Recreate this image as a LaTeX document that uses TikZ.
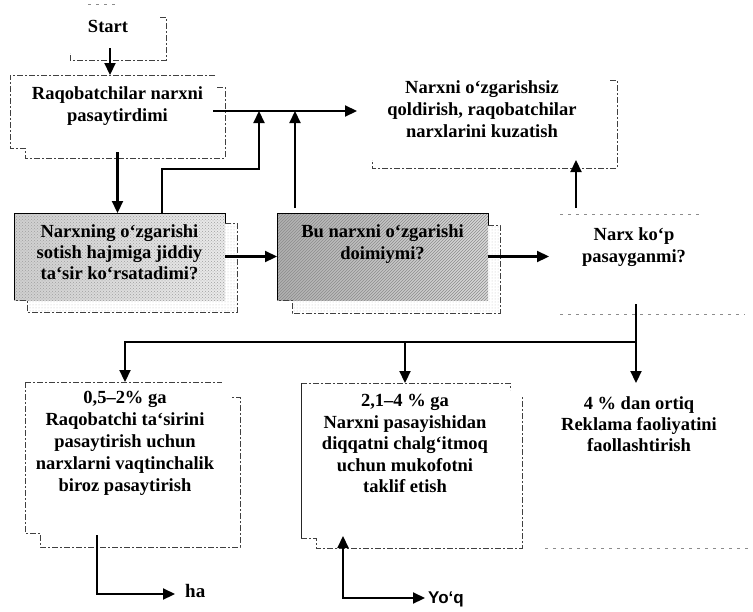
\documentclass[tikz,border=0pt]{standalone}
\usepackage{fontspec}
\setmainfont{Liberation Serif}
\newfontfamily\yoqfont{Liberation Sans}
\usetikzlibrary{arrows.meta,patterns}

% box body: width, height, space above first line, text
\newcommand\boxbody[4]{\parbox[c][#2][t]{#1}{\centering\vspace*{#3}#4\par}}

\tikzset{
  txt/.style={font=\bfseries\fontsize{18.5}{22}\selectfont, inner sep=0pt, outer sep=0pt, anchor=north west},
  conn/.style={line width=2.2pt, -{Triangle[length=12pt,width=11pt]}},
  conn2/.style={line width=2.2pt, {Triangle[length=12pt,width=11pt]}-{Triangle[length=12pt,width=11pt]}},
  edge dash/.style={line width=0.7pt, black!75, dash pattern=on 6pt off 2pt on 2pt off 2pt},
  faint dash/.style={line width=0.6pt, black!45, dash pattern=on 3pt off 5pt},
  solid edge/.style={line width=1pt, black},
}

\begin{document}
\begin{tikzpicture}[x=1pt,y=-1pt]
\useasboundingbox (0,0) rectangle (753,611);

% textured question boxes
\shade[left color=gray!38, right color=gray!16] (14,213) rectangle (225,300);
\fill[pattern=crosshatch dots, pattern color=gray!75] (14,213) rectangle (225,300);
\fill[pattern=dots, pattern color=gray!50] (225,223) -- (237,223) -- (237,312) -- (27,312) -- (27,300) -- (225,300) -- cycle;
\shade[left color=gray!62, right color=gray!30] (277,213) rectangle (488,300);
\fill[pattern=north east lines, pattern color=gray!90] (277,213) rectangle (488,300);
\fill[pattern=dots, pattern color=gray!50] (488,225) -- (500,225) -- (500,313) -- (292,313) -- (292,300) -- (488,300) -- cycle;

% nodes
\node[font=\bfseries\fontsize{18.5}{22}\selectfont, inner sep=2pt] (start) at (108,26) {Start};
\node[txt] (b1) at (10,75) {\boxbody{215pt}{83pt}{11.5pt}{Raqobatchilar narxni\\pasaytirdimi}};
\node[txt] (b2) at (14,213) {\fontsize{18.5}{21}\selectfont\boxbody{211pt}{87pt}{11.5pt}{Narxning o‘zgarishi\\sotish hajmiga jiddiy\\ta‘sir ko‘rsatadimi?}};
\node[txt] (b3) at (277,213) {\boxbody{211pt}{87pt}{11.5pt}{Bu narxni o‘zgarishi\\doimiymi?}};
\node[txt] (b4) at (549,214) {\boxbody{170pt}{98pt}{13.5pt}{Narx ko‘p\\pasayganmi?}};
\node[txt] (b5) at (368,72) {\boxbody{228pt}{96pt}{8.5pt}{Narxni o‘zgarishsiz\\qoldirish, raqobatchilar\\narxlarini kuzatish}};
\node[txt] (b6) at (25,382) {\boxbody{200pt}{165pt}{9.5pt}{0,5–2\% ga\\Raqobatchi ta‘sirini\\pasaytirish uchun\\narxlarni vaqtinchalik\\biroz pasaytirish}};
\node[txt] (b7) at (301,383) {\fontsize{18.5}{21.5}\selectfont\boxbody{208pt}{165pt}{11.5pt}{2,1–4 \% ga\\Narxni pasayishidan\\diqqatni chalg‘itmoq\\uchun mukofotni\\taklif etish}};
\node[txt] (b8) at (549,383) {\fontsize{18.5}{21}\selectfont\boxbody{180pt}{165pt}{13.5pt}{4 \% dan ortiq\\Reklama faoliyatini\\faollashtirish}};
\node[font=\bfseries\fontsize{19}{22}\selectfont, anchor=base west, inner xsep=10pt, inner ysep=0pt] (ha) at (175,597) {ha};
\node[font=\yoqfont\bfseries\fontsize{17}{20}\selectfont, anchor=base west, inner xsep=3pt, inner ysep=0pt] (yoq) at (425,603) {Yo‘q};

% box outlines
\draw[faint dash] (88,4) -- (118,4);
\draw[edge dash] (160,17) -- (166,17) -- (166,60) -- (70,60) -- (70,53);
\draw[edge dash] (215,75) -- (10,75) -- (10,148) -- (25,148) -- (25,158) -- (225,158) -- (225,87) -- (217,87);
\draw[solid edge] (14,300) -- (14,213) -- (225,213) -- (225,223);
\draw[edge dash] (225,223) -- (237,223) -- (237,312) -- (27,312) -- (27,300) -- (14,300);
\draw[solid edge] (277,300) -- (277,213) -- (488,213) -- (488,225);
\draw[edge dash] (488,225) -- (500,225) -- (500,313) -- (292,313) -- (292,300) -- (277,300);
\draw[faint dash] (560,214) -- (700,214);
\draw[faint dash] (560,314) -- (745,314);
\draw[edge dash] (610,80) -- (617,80) -- (617,168) -- (372,168) -- (372,160);
\draw[edge dash] (25,382) -- (222,382);
\draw[edge dash] (25,382) -- (25,533) -- (40,533) -- (40,547) -- (240,547) -- (240,397) -- (232,397);
\draw[edge dash] (301,383) -- (510,383) -- (510,390);
\draw[line width=0.9pt, black!85] (301,383) -- (301,538);
\draw[edge dash] (301,538) -- (316,538) -- (316,548) -- (522,548) -- (522,397);
\draw[faint dash] (545,548) -- (753,548);

% connectors
\coordinate (jr) at ([shift={(-12,-5.5)}]b1.east);
\coordinate (hub) at ([shift={(2,30)}]b4.south);
\coordinate (yc) at ([shift={(-62,50)}]b7.south);
\coordinate (haIn) at ([yshift=3pt]ha.base west);

\draw[conn] ([shift={(2,14)}]start.south) -- ([xshift=2pt]start.south |- b1.north);
\draw[conn] ([yshift=6pt]b1.south) -- (b1.south |- b2.north);
\draw[conn] (jr) -- ([xshift=-11pt]b5.west |- jr);
\draw[conn] ([xshift=42.5pt]b2.north) -- ++(0,-44) -| ([xshift=46pt]jr);
\draw[conn] ([shift={(-87.5,-5)}]b3.north) -- ([xshift=-87.5pt]b3.north |- jr);
\draw[conn] (b2.east) -- (b3.west);
\draw[conn] (b3.east) -- (b3.east -| b4.west);
\draw[conn] ([shift={(27,-6)}]b4.north west) -- ++(0,-48);
\draw[conn] ([shift={(2,-8)}]b4.south) -- (hub) -| (b6.north);
\draw[conn] (hub) -- (hub |- b8.north);
\draw[conn] (b7.north |- hub) -- (b7.north);
\draw[conn] ([shift={(-28,-12)}]b6.south) |- (haIn);
\draw[conn2] ([shift={(-62,-12)}]b7.south) -- (yc) -- (yc -| yoq.west);
\end{tikzpicture}
\end{document}
